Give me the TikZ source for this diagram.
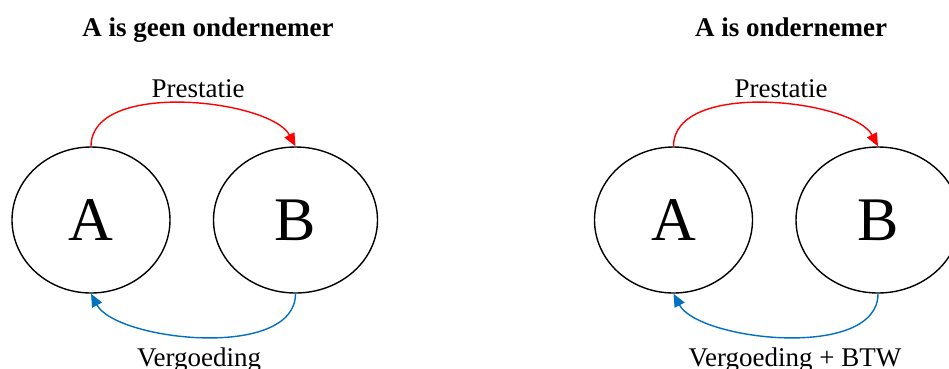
\documentclass[tikz,border=0pt]{standalone}
\usepackage{fontspec}
\setmainfont{Liberation Serif}
\usetikzlibrary{shapes.geometric,arrows.meta}
\definecolor{prestred}{RGB}{255,0,0}
\definecolor{vergblue}{RGB}{0,112,192}
\tikzset{
  party/.style={ellipse, draw=black, line width=1.4pt, minimum height=146pt, inner sep=0pt, font=\fontsize{62}{70}\selectfont},
  title/.style={anchor=base, font=\bfseries\fontsize{27}{32}\selectfont},
  flowlabel/.style={anchor=base, font=\fontsize{27}{32}\selectfont},
  prestarrow/.style={draw=prestred, line width=1.4pt, -{Triangle[length=13pt,width=11pt]}},
  vergarrow/.style={draw=vergblue, line width=1.4pt, -{Triangle[length=13pt,width=11pt]}}
}
\begin{document}
\begin{tikzpicture}[x=1pt,y=-1pt]
\useasboundingbox (0,0) rectangle (949,368);
\clip (0,0) rectangle (949,368);
% left panel
\node[title] (t1) at (208,36) {A is geen ondernemer};
\node[party, minimum width=158pt] (A1) at (91,220) {A};
\node[party, minimum width=164pt] (B1) at (295.5,220) {B};
\node[flowlabel] (p1) at (198,97) {Prestatie};
\node[flowlabel] (v1) at (199,366) {Vergoeding};
\draw[prestarrow] (A1.north) .. controls +(0,-67) and +(-25,-47) .. (B1.north);
\draw[vergarrow] (B1.south) .. controls +(0,67) and +(25,47) .. (A1.south);
% right panel
\node[title] (t2) at (791,36) {A is ondernemer};
\node[party, minimum width=158pt] (A2) at (673.5,220) {A};
\node[party, minimum width=164pt] (B2) at (878,220) {B};
\node[flowlabel] (p2) at (781,97) {Prestatie};
\node[flowlabel] (v2) at (795,366) {Vergoeding + BTW};
\draw[prestarrow] (A2.north) .. controls +(0,-67) and +(-25,-47) .. (B2.north);
\draw[vergarrow] (B2.south) .. controls +(0,67) and +(25,47) .. (A2.south);
\end{tikzpicture}
\end{document}
